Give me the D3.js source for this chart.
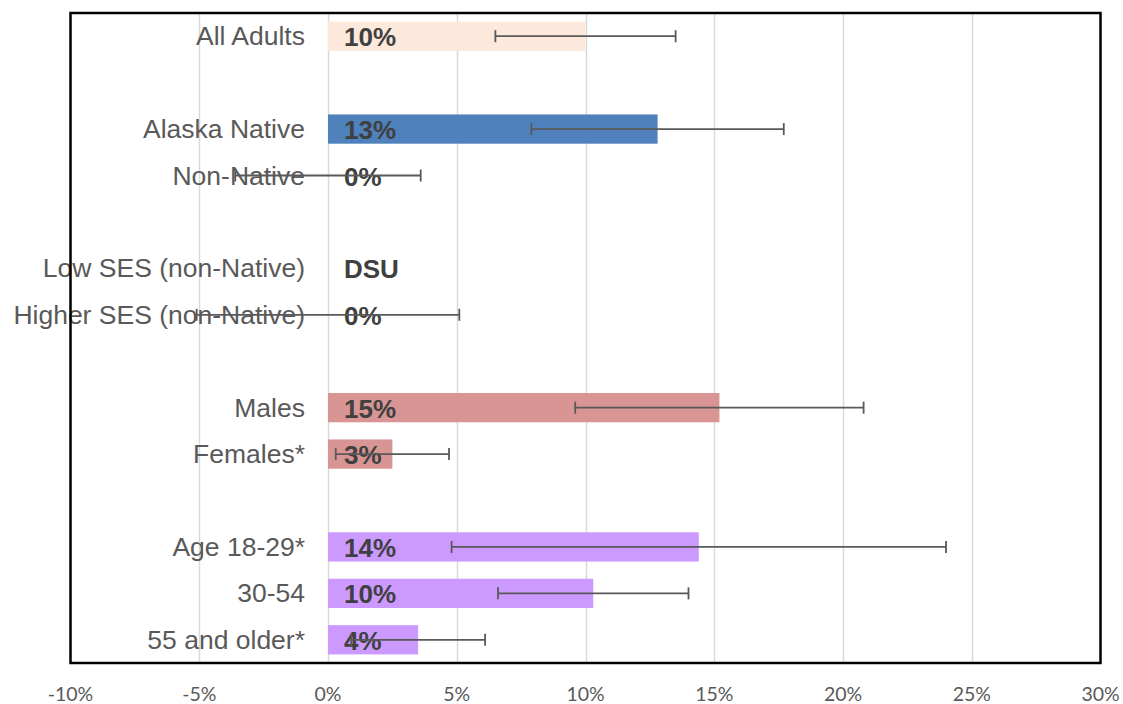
<!DOCTYPE html>
<html>
<head>
<meta charset="utf-8">
<script src="https://cdn.jsdelivr.net/npm/d3@7"></script>
<style>
  html, body { margin: 0; padding: 0; background: #fff; }
  svg { display: block; }
</style>
</head>
<body>
<svg id="chart" width="1123" height="704"></svg>
<script>
// Row order top to bottom (blank strings are spacer rows)
const categories = ["All Adults", "", "Alaska Native", "Non-Native", "", "Low SES (non-Native)", "Higher SES (non-Native)", "", "Males", "Females*", "", "Age 18-29*", "30-54", "55 and older*"];
const values     = [0.100, null, 0.128, 0.000, null, null, 0.000, null, 0.152, 0.025, null, 0.144, 0.103, 0.035];
const lowerCI    = [0.065, null, 0.079, -0.036, null, null, -0.051, null, 0.096, 0.003, null, 0.048, 0.066, 0.009];
const upperCI    = [0.135, null, 0.177, 0.036, null, null, 0.051, null, 0.208, 0.047, null, 0.240, 0.140, 0.061];
const valueLabels = ["10%", "", "13%", "0%", "", "DSU", "0%", "", "15%", "3%", "", "14%", "10%", "4%"];
const barColors  = ["#FCE9DB", null, "#4F81BD", "#4F81BD", null, null, null, null, "#D99594", "#D99594", null, "#CC99FF", "#CC99FF", "#CC99FF"];
const xTicks     = [-0.10, -0.05, 0, 0.05, 0.10, 0.15, 0.20, 0.25, 0.30];
const xTickLabels = ["-10%", "-5%", "0%", "5%", "10%", "15%", "20%", "25%", "30%"];

(function () {
const svg = d3.select("#chart");
const pLeft = 70.5, pRight = 1100.5, pTop = 13, pBottom = 663;

const x = d3.scaleLinear().domain([-0.10, 0.30]).range([pLeft, pRight]);
const y = d3.scaleBand().domain(d3.range(categories.length)).range([pTop, pBottom]).paddingInner(0.37).paddingOuter(0.185);

// gridlines
svg.append("g").selectAll("line").data(xTicks.slice(1, -1)).join("line")
  .attr("x1", d => Math.round(x(d)) + 0.5).attr("x2", d => Math.round(x(d)) + 0.5)
  .attr("y1", pTop).attr("y2", pBottom)
  .attr("stroke", "#D9D9D9").attr("stroke-width", 1.5);

// bars
const rows = categories.map((c, i) => ({ i, c, v: values[i], lo: lowerCI[i], hi: upperCI[i], lab: valueLabels[i], col: barColors[i] }));
svg.append("g").selectAll("rect").data(rows.filter(r => r.v !== null && r.col)).join("rect")
  .attr("x", x(0)).attr("y", r => y(r.i))
  .attr("width", r => Math.max(0, x(r.v) - x(0)))
  .attr("height", y.bandwidth())
  .attr("fill", r => r.col);

// category labels
svg.append("g").selectAll("text").data(rows.filter(r => r.c)).join("text")
  .attr("x", 305).attr("y", r => y(r.i) + y.bandwidth() / 2)
  .attr("text-anchor", "end").attr("dominant-baseline", "central")
  .attr("font-family", "'Liberation Sans', Arial, sans-serif").attr("font-size", 26.5)
  .attr("fill", "#595959").text(r => r.c);

// value labels
svg.append("g").selectAll("text").data(rows.filter(r => r.lab)).join("text")
  .attr("x", x(0) + 16).attr("y", r => y(r.i) + y.bandwidth() / 2 + 1)
  .attr("dominant-baseline", "central")
  .attr("font-family", "'Liberation Sans', Arial, sans-serif").attr("font-size", 26).attr("font-weight", "bold")
  .attr("fill", "#404040").text(r => r.lab);

// error bars
const eb = svg.append("g").attr("stroke", "#595959").attr("stroke-width", 1.8).attr("fill", "none");
rows.filter(r => r.lo !== null).forEach(r => {
  const cy = y(r.i) + y.bandwidth() / 2;
  eb.append("line").attr("x1", x(r.lo)).attr("x2", x(r.hi)).attr("y1", cy).attr("y2", cy);
  [r.lo, r.hi].forEach(v => {
    eb.append("line").attr("x1", x(v)).attr("x2", x(v)).attr("y1", cy - 6).attr("y2", cy + 6);
  });
});

// border
svg.append("rect").attr("x", pLeft).attr("y", pTop).attr("width", pRight - pLeft).attr("height", pBottom - pTop)
  .attr("fill", "none").attr("stroke", "#000").attr("stroke-width", 2.5);

// x axis tick labels
svg.append("g").selectAll("text").data(xTicks).join("text")
  .attr("x", d => x(d)).attr("y", 693)
  .attr("text-anchor", "middle").attr("dominant-baseline", "central")
  .attr("font-family", "Lato, 'Open Sans', sans-serif").attr("font-size", 19.5)
  .attr("fill", "#595959").text((d, i) => xTickLabels[i]);
})();
</script>
</body>
</html>
